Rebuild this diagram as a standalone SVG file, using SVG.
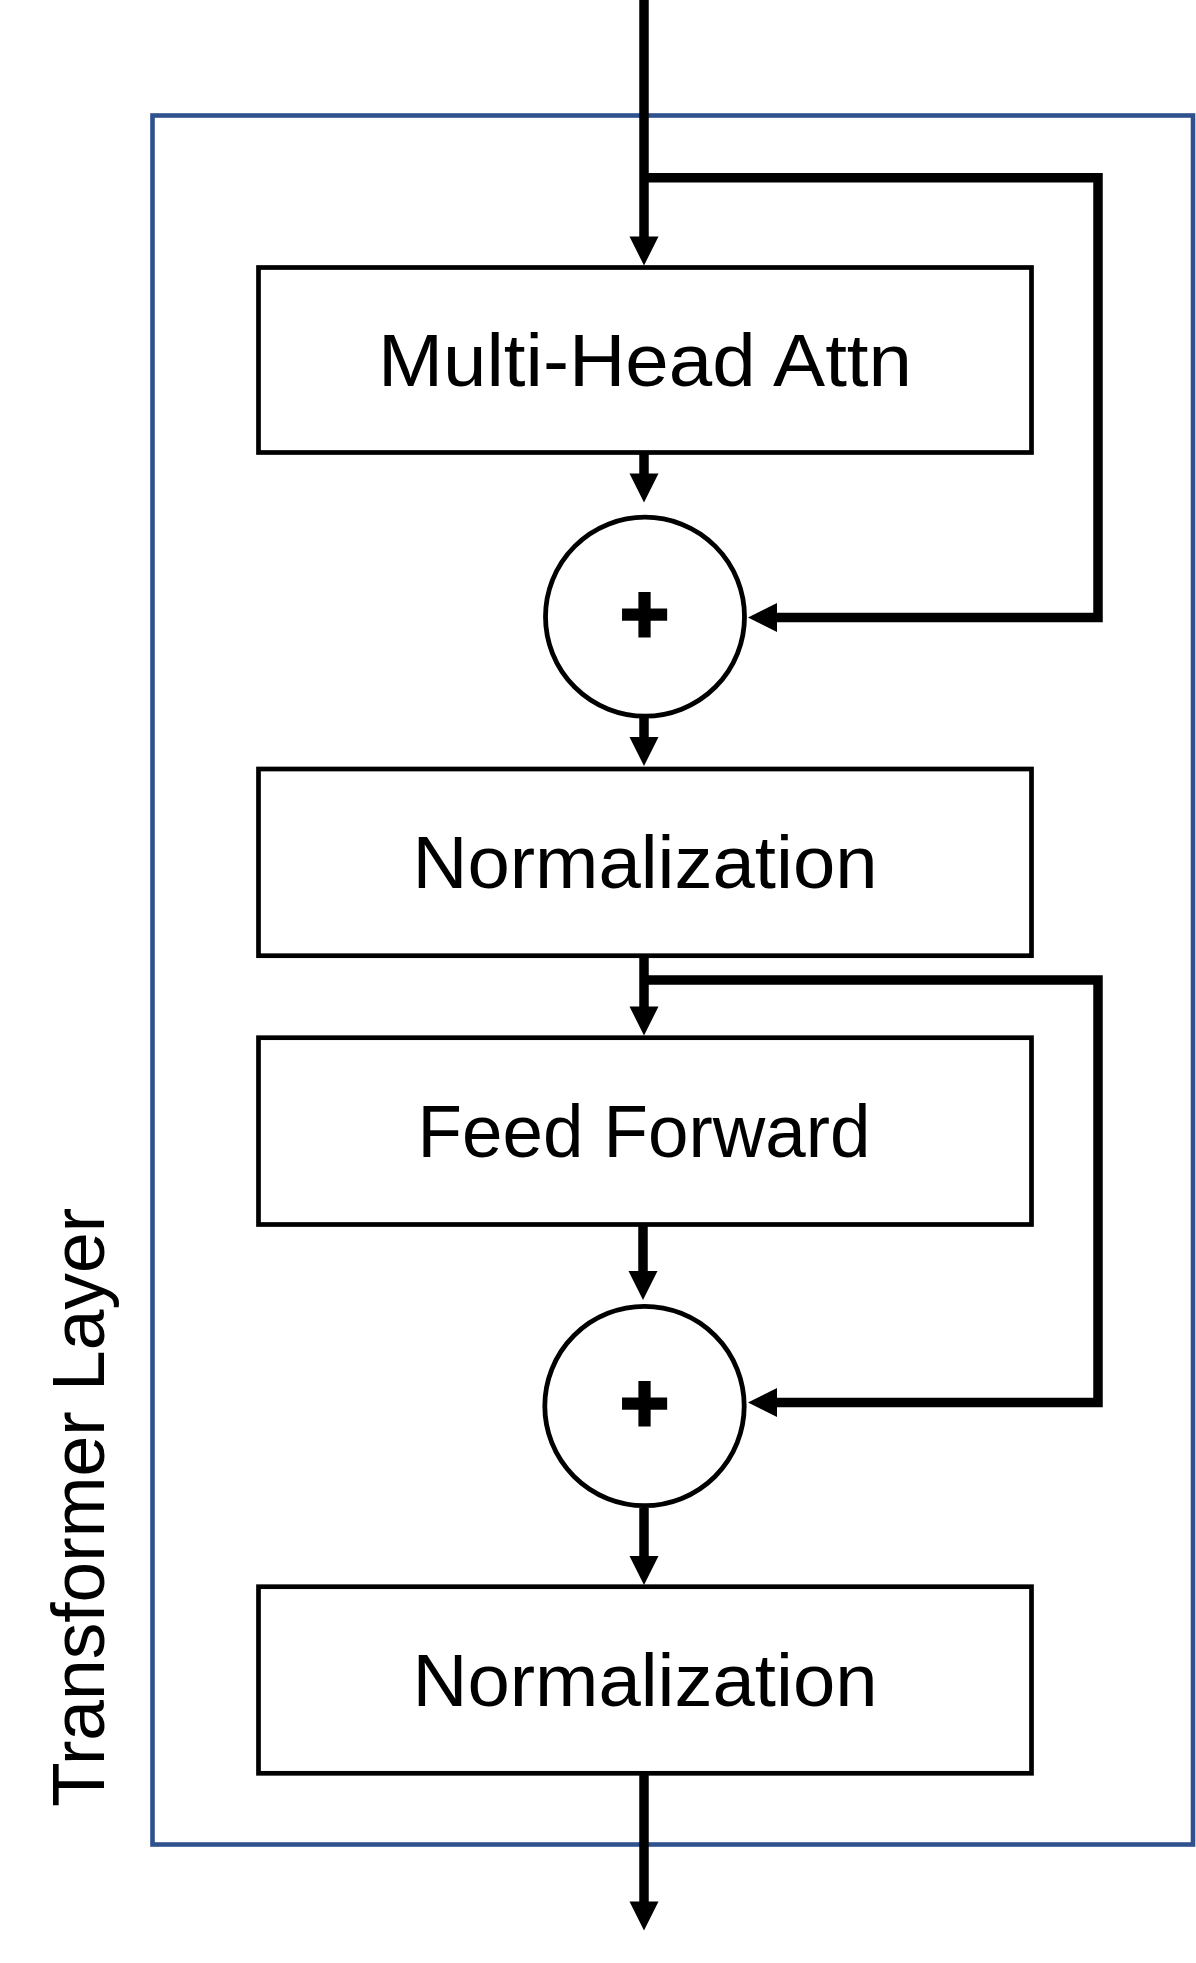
<svg xmlns="http://www.w3.org/2000/svg" width="1196" height="1963" viewBox="0 0 1196 1963">
<style>
.box{fill:#fff;stroke:#000;stroke-width:4.7}
.sum{fill:#fff;stroke:#000;stroke-width:4.8}
.lbl{font-family:"Liberation Sans",Arial,sans-serif;font-size:74px;fill:#000;text-anchor:middle}
.plus{font-family:"Liberation Sans",Arial,sans-serif;font-size:84px;font-weight:bold;fill:#000;stroke:#000;stroke-width:3;text-anchor:middle}
.con{fill:none;stroke:#000;stroke-width:9.5;stroke-linejoin:miter;stroke-linecap:butt}
</style>
<defs>
<marker id="ah" markerUnits="userSpaceOnUse" markerWidth="30" markerHeight="30" refX="1" refY="14.5" orient="auto" overflow="visible">
<path d="M0,0 L29,14.5 L0,29 z" fill="#000"/>
</marker>
</defs>
<rect width="1196" height="1963" fill="#fff"/>
<g id="layer">
<rect x="152.5" y="115.5" width="1040.5" height="1729" fill="none" stroke="#2F528F" stroke-width="4.6"/>
<text class="lbl" transform="translate(104,1507.5) rotate(-90)" textLength="599" lengthAdjust="spacingAndGlyphs">Transformer Layer</text>
</g>
<g id="connectors">
<path class="con" d="M644,0 V237.5" marker-end="url(#ah)"/>
<path class="con" d="M644,177.7 H1098 V617.5 H776" marker-end="url(#ah)"/>
<path class="con" d="M644,452.5 V474.5" marker-end="url(#ah)"/>
<path class="con" d="M644,718 V738" marker-end="url(#ah)"/>
<path class="con" d="M644,955.5 V1007.5" marker-end="url(#ah)"/>
<path class="con" d="M644,980 H1098 V1402.5 H776" marker-end="url(#ah)"/>
<path class="con" d="M643,1219 V1272" marker-end="url(#ah)"/>
<path class="con" d="M644,1508 V1557" marker-end="url(#ah)"/>
<path class="con" d="M644,1773 V1902.5" marker-end="url(#ah)"/>
</g>
<g id="mha">
<rect class="box" x="258.5" y="267.5" width="773" height="185"/>
<text class="lbl" x="645" y="386" textLength="534" lengthAdjust="spacingAndGlyphs">Multi-Head Attn</text>
</g>
<g id="add1">
<circle class="sum" cx="645" cy="616.7" r="99.5"/>
<text class="plus" x="644.5" y="643">+</text>
</g>
<g id="norm1">
<rect class="box" x="258.5" y="769" width="773" height="186.7"/>
<text class="lbl" x="645" y="888" textLength="465" lengthAdjust="spacingAndGlyphs">Normalization</text>
</g>
<g id="ff">
<rect class="box" x="258.5" y="1037.7" width="773" height="186.8"/>
<text class="lbl" x="644" y="1156.5" textLength="453" lengthAdjust="spacingAndGlyphs">Feed Forward</text>
</g>
<g id="add2">
<circle class="sum" cx="644.5" cy="1406" r="99.7"/>
<text class="plus" x="644.5" y="1432">+</text>
</g>
<g id="norm2">
<rect class="box" x="258.5" y="1586.7" width="773" height="186.6"/>
<text class="lbl" x="645" y="1705.5" textLength="465" lengthAdjust="spacingAndGlyphs">Normalization</text>
</g>
</svg>
